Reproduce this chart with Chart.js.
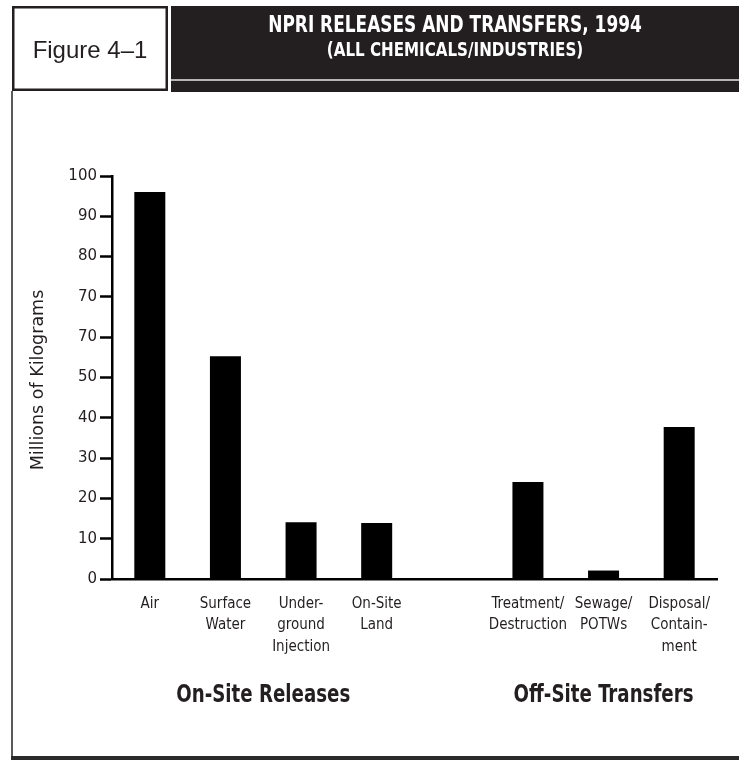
<!DOCTYPE html>
<html><head><meta charset="utf-8">
<script src="https://cdn.jsdelivr.net/npm/chart.js@4"></script>
<style>html,body{margin:0;padding:0;background:#fff;} #wrap{width:739px;height:760px;position:relative;}</style>
</head><body><div id="wrap"><canvas id="c" width="739" height="760"></canvas></div>
<script>
const figureLabel = "Figure 4–1";
const chartTitle = "NPRI RELEASES AND TRANSFERS, 1994";
const chartSubtitle = "(ALL CHEMICALS/INDUSTRIES)";
const yAxisTitle = "Millions of Kilograms";
const categories = [["Air"], ["Surface", "Water"], ["Under-", "ground", "Injection"], ["On-Site", "Land"], [""], ["Treatment/", "Destruction"], ["Sewage/", "POTWs"], ["Disposal/", "Contain-", "ment"]];
const releasesAndTransfers = [96.0, 55.3, 14.1, 13.9, null, 24.1, 2.1, 37.7];
const yTickValues = [0, 10, 20, 30, 40, 50, 60, 70, 80, 90, 100];
const yTickLabels = ["0", "10", "20", "30", "40", "50", "70", "70", "80", "90", "100"];
const groupNames = ["On-Site Releases", "Off-Site Transfers"];
const groupFirst = [0, 5];
const groupLast = [3, 7];

const INK = '#231f20';
const NARROW = "'Liberation Sans Narrow', 'DejaVu Sans Condensed', sans-serif";

function scaledText(ctx, text, cx, y, sx) {
  ctx.save();
  ctx.translate(cx, y);
  ctx.scale(sx, 1);
  ctx.fillText(text, 0, 0);
  ctx.restore();
}

const decor = {
  id: 'decor',
  beforeDraw(chart) {
    const ctx = chart.ctx; ctx.save();
    ctx.fillStyle = '#fff'; ctx.fillRect(0, 0, chart.width, chart.height);
    ctx.restore();
  },
  afterDraw(chart) {
    const ctx = chart.ctx; ctx.save();
    // frame
    ctx.fillStyle = '#5a5a5a'; ctx.fillRect(11, 91, 2, 669);
    ctx.fillStyle = '#2a2a2a'; ctx.fillRect(11, 756, 728, 4);
    // figure box
    ctx.fillStyle = '#fff'; ctx.fillRect(12, 6, 156, 85);
    ctx.strokeStyle = INK; ctx.lineWidth = 2.5; ctx.strokeRect(13.25, 7.25, 153.5, 82.5);
    // dark title bar
    ctx.fillStyle = INK; ctx.fillRect(171, 6, 568, 86);
    ctx.fillStyle = '#b5b5b5'; ctx.fillRect(171, 79, 568, 2);
    // texts
    ctx.textAlign = 'center'; ctx.textBaseline = 'alphabetic';
    ctx.fillStyle = INK; ctx.font = "24px 'Liberation Sans', sans-serif";
    ctx.fillText(figureLabel, 90, 58);
    ctx.fillStyle = '#fff'; ctx.font = "bold 23px " + NARROW;
    scaledText(ctx, chartTitle, 455, 32, 0.82);
    ctx.font = "bold 20px " + NARROW;
    scaledText(ctx, chartSubtitle, 455, 56, 0.84);
    // group labels
    const xs = chart.scales.x;
    ctx.fillStyle = INK; ctx.font = "bold 25px " + NARROW;
    groupNames.forEach((g, i) => {
      const cx = (xs.getPixelForValue(groupFirst[i]) + xs.getPixelForValue(groupLast[i])) / 2;
      scaledText(ctx, g, cx, 702, 0.81);
    });
    // y axis title
    ctx.font = "17.5px 'DejaVu Sans', sans-serif";
    ctx.textBaseline = 'middle';
    ctx.translate(38, 380); ctx.rotate(-Math.PI / 2);
    ctx.fillText(yAxisTitle, 0, 0);
    ctx.restore();
  }
};

new Chart(document.getElementById('c'), {
  type: 'bar',
  data: {
    labels: categories,
    datasets: [{ data: releasesAndTransfers, backgroundColor: '#000', borderWidth: 0, barPercentage: 0.41, categoryPercentage: 1 }]
  },
  options: {
    responsive: false,
    animation: false,
    events: [],
    layout: { padding: { top: 176, left: 0, right: 22, bottom: 0 } },
    plugins: { legend: { display: false }, tooltip: { enabled: false }, title: { display: false } },
    scales: {
      x: {
        offset: true,
        grid: { display: false, drawTicks: false },
        border: { display: true, color: '#000', width: 2.5 },
        ticks: { color: INK, font: { family: NARROW, size: 15, lineHeight: '21.5px' }, padding: 14, maxRotation: 0, autoSkip: false },
        afterFit(s) { s.height = 181; }
      },
      y: {
        min: 0, max: 100,
        grid: { drawOnChartArea: false, drawTicks: true, tickLength: 12, tickWidth: 2.5, tickColor: '#000' },
        border: { display: true, color: '#000', width: 2.5 },
        ticks: {
          stepSize: 10, padding: 3, color: INK,
          font: { family: "'DejaVu Sans', sans-serif", size: 15 },
          callback: (v) => { const i = yTickValues.indexOf(v); return i >= 0 ? yTickLabels[i] : ''; }
        },
        afterFit(s) { s.width = 112; }
      }
    }
  },
  plugins: [decor]
});
</script>
</body></html>
